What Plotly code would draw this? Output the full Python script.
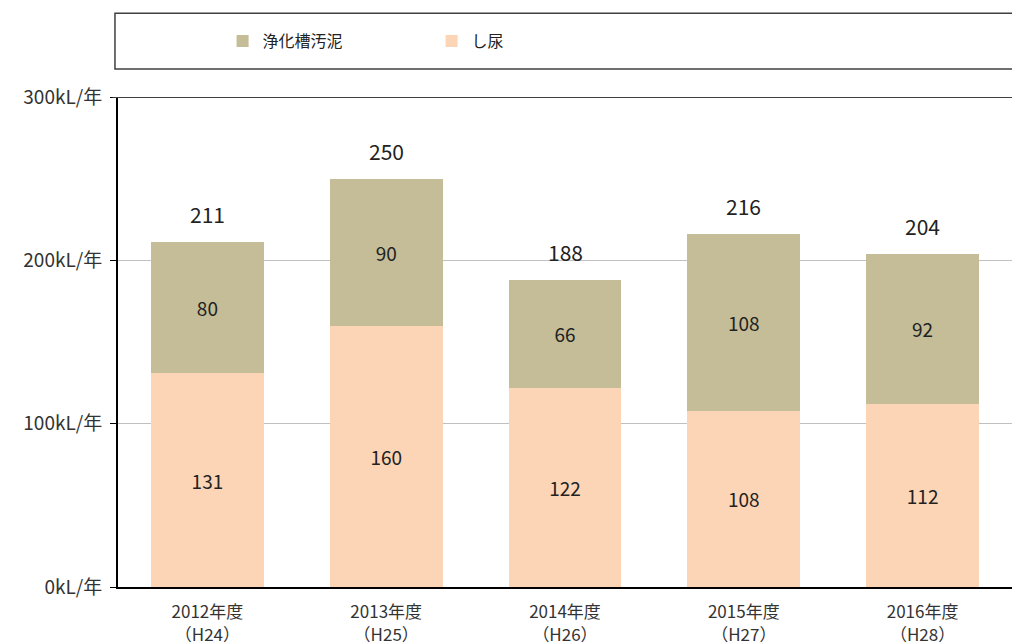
import plotly.graph_objects as go

categories = ["2012年度<br>（H24）", "2013年度<br>（H25）", "2014年度<br>（H26）",
              "2015年度<br>（H27）", "2016年度<br>（H28）"]
shinyo = [131, 160, 122, 108, 112]
johkaso = [80, 90, 66, 108, 92]
totals = [211, 250, 188, 216, 204]
tick_vals = [0, 100, 200, 300]
tick_text = ["0kL/年", "100kL/年", "200kL/年", "300kL/年"]

FONT = "Noto Sans CJK JP"
C_SHINYO = "#FBD5B5"
C_JOHKASO = "#C4BD97"

fig = go.Figure()
fig.add_trace(go.Bar(
    x=categories, y=shinyo, name="し尿", marker=dict(color=C_SHINYO, line=dict(width=0)),
    text=[str(v) for v in shinyo], textposition="inside", insidetextanchor="middle",
    textfont=dict(size=19, color="#222222", family=FONT), textangle=0,
))
fig.add_trace(go.Bar(
    x=categories, y=johkaso, name="浄化槽汚泥", marker=dict(color=C_JOHKASO, line=dict(width=0)),
    text=[str(v) for v in johkaso], textposition="inside", insidetextanchor="middle",
    textfont=dict(size=19, color="#222222", family=FONT), textangle=0,
))

for c, t in zip(categories, totals):
    fig.add_annotation(x=c, y=t, text=str(t), showarrow=False, yshift=28,
                       font=dict(size=21, color="#222222", family=FONT))

fig.add_shape(type="line", xref="paper", yref="y", x0=-0.006, x1=1.0, y0=300, y1=300,
              line=dict(color="#404040", width=2))
fig.add_shape(type="rect", xref="paper", yref="paper", x0=-0.0034, x1=1.02, y0=1.057, y1=1.171,
              line=dict(color="#404040", width=1.5), fillcolor="rgba(0,0,0,0)")

fig.update_layout(
    width=1012, height=644,
    margin=dict(l=118, r=0, t=97, b=57),
    paper_bgcolor="white", plot_bgcolor="white",
    barmode="stack", bargap=0.37,
    font=dict(family=FONT, color="#333333", size=17),
    showlegend=True,
    legend=dict(orientation="h", traceorder="reversed", x=0.117, xanchor="left",
                y=1.114, yanchor="middle", entrywidth=164, entrywidthmode="pixels",
                font=dict(size=16, color="#222222", family=FONT), bgcolor="rgba(0,0,0,0)"),
    xaxis=dict(showline=True, linecolor="black", linewidth=2, ticks="", showgrid=False,
               tickfont=dict(size=17, color="#333333"), ticklabelstandoff=9, automargin=False),
    yaxis=dict(range=[0, 300], tickvals=tick_vals, ticktext=tick_text, showline=True,
               linecolor="black", linewidth=2, ticks="outside", ticklen=6, tickcolor="black",
               showgrid=True, gridcolor="#C0C0C0", gridwidth=1, zeroline=False,
               tickfont=dict(size=19, color="#333333"), ticklabelstandoff=4, automargin=False),
)

fig.write_html("out.html", config={"displayModeBar": False},
               post_script="document.body.style.margin='0';document.body.style.overflow='hidden';")
